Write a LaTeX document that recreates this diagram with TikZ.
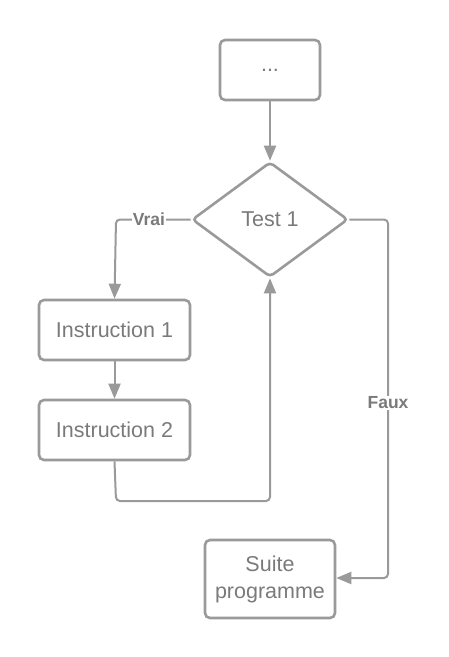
\documentclass[tikz,border=0pt]{standalone}
\usepackage{fontspec}
\setmainfont{Liberation Sans}
\usetikzlibrary{shapes.geometric,arrows.meta}
\definecolor{ln}{HTML}{9A9A9A}
\definecolor{tx}{HTML}{7A7A7A}
\tikzset{
  box/.style={draw=ln, line width=2.6pt, rounded corners=5pt, text=tx, font=\fontsize{21.5}{27}\selectfont, align=center, inner sep=0pt},
  dia/.style={draw=ln, line width=2.6pt, diamond, rounded corners=4pt, text=tx, font=\fontsize{21.5}{26}\selectfont, inner sep=0pt, minimum width=156pt, minimum height=115pt, aspect=1.36},
  conn/.style={draw=ln, line width=2pt, rounded corners=4pt, -{Triangle[length=15pt,width=12pt]}},
  lbl/.style={fill=white, text=tx, font=\bfseries\fontsize{17.5}{20}\selectfont, inner sep=1pt}
}
\begin{document}
\begin{tikzpicture}[x=1pt,y=-1pt]
\useasboundingbox (0,0) rectangle (449,657);
\node[box, minimum width=100pt, minimum height=60pt] (start) at (270,70) {...};
\node[dia] (test) at (270,219.5) {Test 1};
\node[box, minimum width=151pt, minimum height=60pt] (i1) at (114.5,330) {Instruction 1};
\node[box, minimum width=151pt, minimum height=60pt] (i2) at (114.5,430) {Instruction 2};
\node[box, minimum width=130pt, minimum height=78pt] (suite) at (270,579) {Suite\\programme};
\coordinate (vk) at (116,219.5);
\coordinate (fk) at (388,219.5);
\coordinate (fb) at (388,578);
\coordinate (lb) at (116,501);
\coordinate (rb) at (270,501);
\draw[conn] (start.south) -- (test.north);
\draw[conn] (test.west) -- (vk) -- (i1.north);
\node[lbl] (vrai) at (149,219.5) {Vrai};
\draw[conn] (i1.south) -- (i2.south |- i2.north);
\draw[conn] (i2.south) -- (lb) -- (rb) -- (test.south);
\draw[conn] (test.east) -- (fk) -- (fb) -- (suite.east |- fb);
\node[lbl] (faux) at (388,403) {Faux};
\end{tikzpicture}
\end{document}
